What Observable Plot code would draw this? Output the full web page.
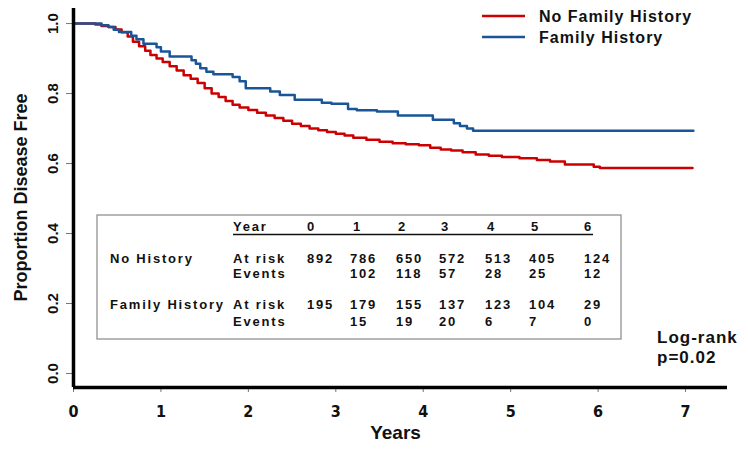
<!DOCTYPE html>
<html>
<head>
<meta charset="utf-8">
<script src="https://cdn.jsdelivr.net/npm/d3@7"></script>
<script src="https://cdn.jsdelivr.net/npm/@observablehq/plot@0.6"></script>
<style>
  html, body { margin: 0; padding: 0; background: #fff; }
  #chart svg { display: block; }
</style>
</head>
<body>
<div id="chart"></div>
<script>
// ---------- data ----------
const seriesNames = ["No Family History", "Family History"];
const seriesColors = ["#cc0000", "#1a5598"];

const noFamT = [0, 0.25, 0.32, 0.4, 0.48, 0.55, 0.62, 0.68, 0.75, 0.82, 0.88, 0.95, 1.02, 1.1, 1.18, 1.26, 1.34, 1.42, 1.5, 1.58, 1.66, 1.74, 1.82, 1.9, 2.0, 2.1, 2.2, 2.3, 2.4, 2.5, 2.6, 2.7, 2.8, 2.9, 3.0, 3.1, 3.2, 3.35, 3.5, 3.65, 3.8, 3.95, 4.08, 4.2, 4.32, 4.45, 4.6, 4.75, 4.9, 5.1, 5.3, 5.45, 5.62, 5.95, 6.02, 7.08];
const noFamS = [1.0, 0.997, 0.993, 0.99, 0.983, 0.975, 0.963, 0.948, 0.935, 0.922, 0.91, 0.9, 0.89, 0.878, 0.866, 0.852, 0.842, 0.83, 0.815, 0.8, 0.79, 0.779, 0.768, 0.76, 0.753, 0.745, 0.737, 0.73, 0.722, 0.714, 0.707, 0.7, 0.695, 0.69, 0.685, 0.68, 0.674, 0.668, 0.662, 0.658, 0.655, 0.652, 0.645, 0.64, 0.637, 0.632, 0.626, 0.622, 0.619, 0.615, 0.61, 0.606, 0.597, 0.591, 0.587, 0.587];

const famT = [0, 0.32, 0.4, 0.46, 0.52, 0.66, 0.72, 0.8, 0.95, 1.0, 1.1, 1.35, 1.4, 1.45, 1.52, 1.6, 1.82, 1.9, 1.97, 2.25, 2.36, 2.53, 2.84, 2.95, 3.14, 3.24, 3.47, 3.71, 4.11, 4.35, 4.42, 4.5, 4.57, 7.09];
const famS = [1.0, 0.995, 0.99, 0.982, 0.976, 0.965, 0.955, 0.942, 0.932, 0.92, 0.906, 0.895, 0.885, 0.872, 0.862, 0.855, 0.847, 0.835, 0.815, 0.806, 0.796, 0.782, 0.774, 0.771, 0.756, 0.752, 0.749, 0.737, 0.725, 0.715, 0.707, 0.7, 0.694, 0.694];

const xTicks = [0, 1, 2, 3, 4, 5, 6, 7];
const yTicks = [0.0, 0.2, 0.4, 0.6, 0.8, 1.0];
const xDomain = [0, 7.48];
const yDomain = [-0.04, 1.043];

const tableYears = [0, 1, 2, 3, 4, 5, 6];
const noHistAtRisk = [892, 786, 650, 572, 513, 405, 124];
const noHistEvents = [null, 102, 118, 57, 28, 25, 12];
const famHistAtRisk = [195, 179, 155, 137, 123, 104, 29];
const famHistEvents = [null, 15, 19, 20, 6, 7, 0];

const xLabel = "Years";
const yLabel = "Proportion Disease Free";
const statLines = ["Log-rank", "p=0.02"];

// ---------- build ----------
const curves = [
  ...noFamT.map((t, i) => ({t, s: noFamS[i], g: seriesNames[0]})),
  ...famT.map((t, i) => ({t, s: famS[i], g: seriesNames[1]}))
];

const boldFont = "'Liberation Sans', Arial, sans-serif";
const narrowFont = "'Liberation Sans Narrow', 'Arial Narrow', 'DejaVu Sans Condensed', sans-serif";

const plot = Plot.plot({
  width: 748,
  height: 455,
  marginTop: 8,
  marginBottom: 68,
  marginLeft: 73,
  marginRight: 21,
  style: {background: "#fff", overflow: "visible"},
  x: {domain: xDomain},
  y: {domain: yDomain},
  color: {domain: seriesNames, range: seriesColors},
  marks: [
    Plot.axisY({ticks: yTicks, tickSize: 7, tickFormat: () => "", stroke: "#777", label: null}),
    Plot.text(yTicks, {y: d => d, frameAnchor: "left", dx: -20, rotate: -90, textAnchor: "middle",
      text: d => d.toFixed(1), fontSize: 15, fontWeight: "bold", fontFamily: boldFont, fill: "#111"}),
    Plot.axisX({ticks: xTicks, tickSize: 5, tickPadding: 13, stroke: "#777", label: null,
      fontSize: 16, fontWeight: "bold", fontFamily: narrowFont, fill: "#111"}),
    Plot.line(curves, {x: "t", y: "s", z: "g", stroke: "g", curve: "step-after", strokeWidth: 2.5}),
    Plot.ruleX([xDomain[0]], {stroke: "#000", strokeWidth: 3.5}),
    Plot.ruleY([yDomain[0]], {stroke: "#000", strokeWidth: 3.5}),
    Plot.text([xLabel], {frameAnchor: "bottom", dy: 51, dx: -5, textAnchor: "middle", text: d => d,
      fontSize: 19, fontWeight: "bold", fontFamily: boldFont, fill: "#111"}),
    Plot.text([yLabel], {y: 0.503, frameAnchor: "left", dx: -52, rotate: -90, textAnchor: "middle",
      text: d => d, fontSize: 18, fontWeight: "bold", fontFamily: boldFont, fill: "#111"})
  ]
});
document.getElementById("chart").appendChild(plot);

// ---------- annotations: legend, risk table, log-rank ----------
const svg = d3.select(plot);
const ann = svg.append("g").attr("font-family", boldFont).attr("font-weight", "bold")
  .attr("fill", "#111").attr("text-anchor", "start");

// legend
const legendY = [16, 37];
seriesNames.forEach((name, i) => {
  ann.append("line").attr("x1", 482).attr("x2", 525).attr("y1", legendY[i]).attr("y2", legendY[i])
    .attr("stroke", seriesColors[i]).attr("stroke-width", 2.5);
  ann.append("text").attr("x", 539).attr("y", legendY[i]).attr("dy", "0.36em")
    .attr("font-size", 16).style("letter-spacing", "1px").text(name);
});

// risk table box
ann.append("rect").attr("x", 97).attr("y", 215).attr("width", 524).attr("height", 124)
  .attr("fill", "none").attr("stroke", "#888").attr("stroke-width", 1.2);

const tfs = 13;
const tStyle = sel => sel.attr("font-size", tfs).style("letter-spacing", "1.8px");
const headX = [307, 353, 398, 441, 487, 531, 584];
const colX = [307, 350, 396, 439, 485, 529, 584];
const rowY = {head: 231, r1: 263, r2: 278, r3: 309, r4: 326};

tStyle(ann.append("text").attr("x", 233).attr("y", rowY.head).text("Year"));
tableYears.forEach((yr, i) => tStyle(ann.append("text").attr("x", headX[i]).attr("y", rowY.head).text(yr)));
ann.append("line").attr("x1", 233).attr("x2", 593).attr("y1", 234.5).attr("y2", 234.5)
  .attr("stroke", "#111").attr("stroke-width", 1.3);

tStyle(ann.append("text").attr("x", 110).attr("y", rowY.r1).text("No History"));
tStyle(ann.append("text").attr("x", 233).attr("y", rowY.r1).text("At risk"));
tStyle(ann.append("text").attr("x", 233).attr("y", rowY.r2).text("Events"));
tStyle(ann.append("text").attr("x", 110).attr("y", rowY.r3).text("Family History"));
tStyle(ann.append("text").attr("x", 233).attr("y", rowY.r3).text("At risk"));
tStyle(ann.append("text").attr("x", 233).attr("y", rowY.r4).text("Events"));

const rows = [[noHistAtRisk, rowY.r1], [noHistEvents, rowY.r2], [famHistAtRisk, rowY.r3], [famHistEvents, rowY.r4]];
rows.forEach(([vals, y]) => vals.forEach((v, i) => {
  if (v !== null) tStyle(ann.append("text").attr("x", colX[i]).attr("y", y).text(v));
}));

// log-rank
statLines.forEach((s, i) => {
  ann.append("text").attr("x", 657).attr("y", [337, 357][i]).attr("dy", "0.36em")
    .attr("font-size", 17).style("letter-spacing", "1px").text(s);
});
</script>
</body>
</html>
